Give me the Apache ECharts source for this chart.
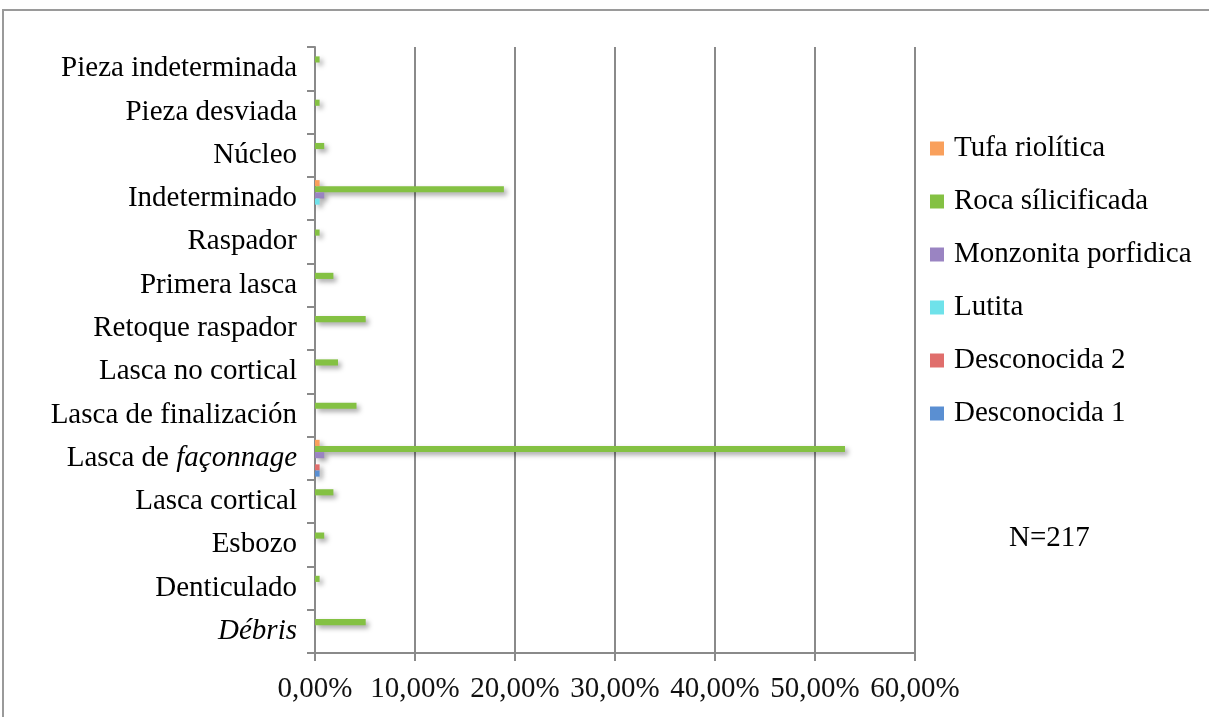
<!DOCTYPE html>
<html>
<head>
<meta charset="utf-8">
<script src="https://cdn.jsdelivr.net/npm/echarts@6/dist/echarts.min.js"></script>
<style>
    html, body { margin: 0; padding: 0; background: #fff; }
    #chart { width: 1209px; height: 717px; }
</style>
</head>
<body>
<div id="chart"></div>
<script>
// categories, top to bottom as in the picture
const categories = [
    "Pieza indeterminada", "Pieza desviada", "Núcleo", "Indeterminado", "Raspador",
    "Primera lasca", "Retoque raspador", "Lasca no cortical", "Lasca de finalización",
    "Lasca de façonnage", "Lasca cortical", "Esbozo", "Denticulado", "Débris",
];

// percentages (N=217), same order as categories
const tufaRiolitica = [0, 0, 0, 0.46, 0, 0, 0, 0, 0, 0.46, 0, 0, 0, 0];
const rocaSilicificada = [0.46, 0.46, 0.92, 18.89, 0.46, 1.84, 5.07, 2.30, 4.15, 53.00, 1.84, 0.92, 0.46, 5.07];
const monzonitaPorfidica = [0, 0, 0, 0.92, 0, 0, 0, 0, 0, 0.92, 0, 0, 0, 0];
const lutita = [0, 0, 0, 0.46, 0, 0, 0, 0, 0, 0, 0, 0, 0, 0];
const desconocida2 = [0, 0, 0, 0, 0, 0, 0, 0, 0, 0.46, 0, 0, 0, 0];
const desconocida1 = [0, 0, 0, 0, 0, 0, 0, 0, 0, 0.46, 0, 0, 0, 0];

const xTicks = [0, 10, 20, 30, 40, 50, 60];
const sampleLabel = "N=217";

const font = "Liberation Serif";
const fontSize = 29;
const gray = "#8a8a8a";

const shadow = {
    shadowColor: "rgba(0, 0, 0, 0.35)",
    shadowBlur: 5,
    shadowOffsetX: 3,
    shadowOffsetY: 3,
};

const seriesDefs = [
    { name: "Tufa riolítica", color: "#F9A05C", data: tufaRiolitica },
    { name: "Roca sílicificada", color: "#84C143", data: rocaSilicificada },
    { name: "Monzonita porfidica", color: "#9A84C2", data: monzonitaPorfidica },
    { name: "Lutita", color: "#6FE2EA", data: lutita },
    { name: "Desconocida 2", color: "#E06E6C", data: desconocida2 },
    { name: "Desconocida 1", color: "#5A8FD2", data: desconocida1 },
];

const option = {
    animation: false,
    backgroundColor: "#fff",
    textStyle: { fontFamily: font },
    graphic: [
        {
            type: "rect",
            shape: { x: 3, y: 10, width: 1240, height: 740 },
            style: { fill: "none", stroke: "#9a9a9a", lineWidth: 2 },
            silent: true,
        },
        {
            type: "text",
            x: 1009,
            y: 524,
            style: {
                text: sampleLabel,
                font: `${fontSize}px "${font}"`,
                fill: "#000",
            },
        },
    ],
    legend: {
        orient: "vertical",
        left: 925,
        top: 129,
        itemWidth: 14,
        itemHeight: 14,
        itemGap: 24,
        icon: "rect",
        data: seriesDefs.map((s) => s.name),
        textStyle: {
            fontFamily: font,
            fontSize: fontSize,
            lineHeight: 29,
            color: "#000",
            padding: [0, 0, 0, 5],
        },
    },
    grid: {
        left: 315,
        right: 294,
        top: 47,
        bottom: 64,
    },
    xAxis: {
        type: "value",
        min: xTicks[0],
        max: xTicks[xTicks.length - 1],
        interval: 10,
        axisLine: { show: true, lineStyle: { color: gray, width: 2 } },
        axisTick: { show: true, length: 8, lineStyle: { color: gray, width: 2 } },
        splitLine: { show: true, lineStyle: { color: gray, width: 2 } },
        axisLabel: {
            margin: 22,
            fontFamily: font,
            fontSize: fontSize,
            color: "#111",
            formatter: (v) => `${v.toFixed(2).replace(".", ",")}%`,
        },
    },
    yAxis: {
        type: "category",
        inverse: true,
        data: categories,
        axisLine: { show: true, lineStyle: { color: gray, width: 2 } },
        axisTick: { show: true, length: 8, lineStyle: { color: gray, width: 2 } },
        axisLabel: {
            margin: 18,
            fontFamily: font,
            fontSize: fontSize,
            color: "#000",
            formatter: (v) => {
                if (v === "Lasca de façonnage") return "Lasca de {i|façonnage}";
                if (v === "Débris") return "{i|Débris}";
                return v;
            },
            rich: {
                i: { fontStyle: "italic", fontFamily: font, fontSize: fontSize, color: "#000" },
            },
        },
    },
    series: seriesDefs.map((s) => ({
        name: s.name,
        type: "bar",
        data: s.data,
        barGap: "0%",
        barCategoryGap: "15%",
        itemStyle: { color: s.color, ...shadow },
    })),
};

const chart = echarts.init(document.getElementById("chart"));
chart.setOption(option);
</script>
</body>
</html>
